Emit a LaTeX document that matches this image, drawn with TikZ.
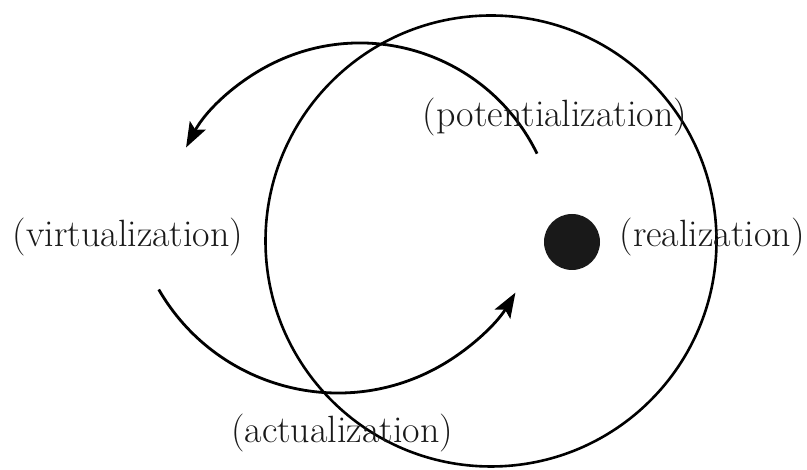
\documentclass[tikz,border=0pt]{standalone}
\usepackage{fontspec}
\usetikzlibrary{arrows.meta, calc}
\begin{document}
\begin{tikzpicture}[x=1pt, y=1pt,
        lbl/.style={font=\fontsize{38}{45}\selectfont, text=black!90, inner sep=0pt},
        arcline/.style={line width=2.8pt, -{Stealth[length=25pt, width=18pt, inset=5pt]}}]
        \useasboundingbox (0, 0) rectangle (807, 470);
        \node [circle, draw, line width=2.6pt, minimum size=451pt, inner sep=0pt] (ring) at (491, 229) {};
        \node [circle, fill=black!90, minimum size=56pt, inner sep=0pt] (dot) at (572, 228) {};
        \coordinate (upstart) at ($(360, 230) + (26:197)$);
        \coordinate (lowstart) at ($(338, 284) + (210:207)$);
        \draw [arcline] (upstart) arc [start angle=26, end angle=152, radius=197];
        \draw [arcline] (lowstart) arc [start angle=210, end angle=329, radius=207];
        \node [lbl] (pot) at (555, 353) {(potentialization)};
        \node [lbl] (virt) at (128, 233) {(virtualization)};
        \node [lbl] (real) at (712, 233) {(realization)};
        \node [lbl] (act) at (342, 37) {(actualization)};
    \end{tikzpicture}
\end{document}
